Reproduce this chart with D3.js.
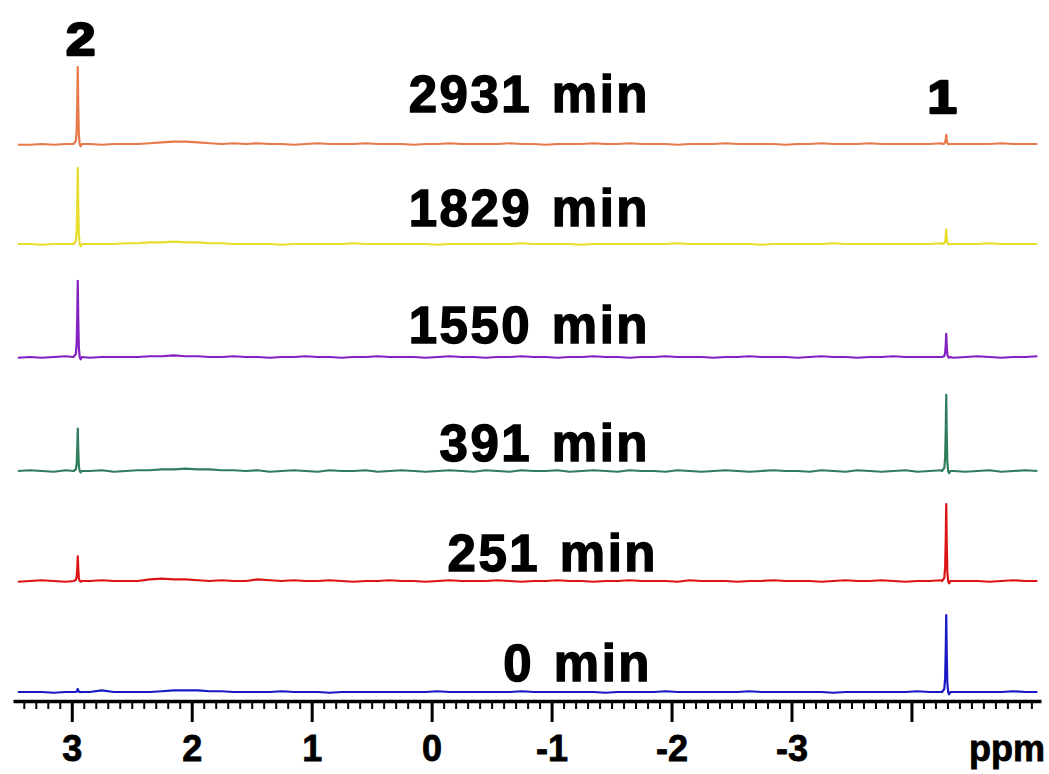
<!DOCTYPE html>
<html>
<head>
<meta charset="utf-8">
<script src="https://cdn.jsdelivr.net/npm/d3@7"></script>
<style>
  html, body { margin: 0; padding: 0; background: #fff; }
  svg { display: block; }
</style>
</head>
<body>
<svg id="chart" width="1049" height="774"></svg>
<script>
// Reaction time of each spectrum, top to bottom
const times = ["2931 min", "1829 min", "1550 min", "391 min", "251 min", "0 min"];

// Peak assignments and chemical shifts (ppm)
const peakLabels = ["2", "1"];
const peakShifts = [2.95, -4.29];

// Peak intensities per spectrum (same order as times)
const peak2Heights = [100, 99, 99, 55, 32, 4];
const peak1Heights = [12, 19, 30, 99, 100, 100];

// Axis ticks (ppm)
const majorTicks = [3, 2, 1, 0, -1, -2, -3, -4];
const tickLabels = ["3", "2", "1", "0", "-1", "-2", "-3", ""];

// Baseline samples every 0.1 ppm starting at 3.45 ppm
const baselineStart = 3.45;
const baselineStep = 0.1;
const base2931 = [
  -1,-1,0,-1,0,0,0,-1,0,0,
  0,1,2,3,3,2,1,0,1,0,
  1,0,0,-1,0,1,0,0,0,1,
  0,0,0,-1,0,0,1,0,0,0,
  0,1,0,0,-1,0,0,0,1,0,
  0,1,0,0,0,-1,0,0,0,1,
  0,0,0,0,-1,0,0,1,0,0,
  0,1,0,0,0,0,0,1,0,0,
  0,0,1,0,0,0
];
const base1829 = [
  0,0,-1,0,0,0,0,0,0,1,
  1,2,2,3,2,2,1,1,0,0,
  0,0,-1,0,0,0,0,0,1,0,
  0,0,0,0,0,-1,0,0,0,0,
  0,0,1,0,0,0,0,-1,0,0,
  0,0,0,0,0,1,0,0,0,0,
  0,0,-1,0,0,0,0,0,1,0,
  0,0,0,0,0,0,0,1,0,0,
  0,1,0,0,0,0
];
const base1550 = [
  -1,0,-1,0,1,0,-1,0,0,0,
  0,1,1,2,1,1,0,0,1,0,
  0,-1,0,0,1,0,0,-1,0,0,
  1,0,0,0,-1,0,1,0,0,-1,
  0,0,1,0,0,-1,0,0,1,0,
  0,-1,0,0,1,0,0,0,-1,0,
  0,1,0,0,0,-1,0,1,0,0,
  -1,0,0,1,0,0,0,0,-1,0,
  1,0,-1,0,0,1
];
const base391 = [
  0,1,0,-1,1,0,0,1,-1,0,
  1,1,2,2,3,2,2,1,1,0,
  1,-1,0,1,0,-1,1,0,0,1,
  -1,0,1,0,-1,0,1,0,-1,1,
  0,-1,1,0,0,1,-1,0,1,0,
  -1,1,0,0,-1,1,0,-1,0,1,
  0,-1,0,1,0,0,-1,1,0,-1,
  1,0,-1,0,1,-1,0,1,0,-1,
  0,1,-1,0,1,0
];
const base251 = [
  -1,0,1,0,-1,0,0,1,0,0,
  0,2,3,2,2,1,0,1,0,0,
  2,1,0,1,0,0,1,0,-1,0,
  0,1,0,0,-1,0,1,0,0,0,
  1,0,-1,0,0,1,0,0,-1,0,
  0,1,0,0,0,-1,1,0,0,0,
  -1,0,0,1,0,0,0,-1,0,1,
  0,0,1,0,-1,0,0,1,0,0,
  0,-1,0,1,0,0
];
const base0 = [
  0,0,0,-1,0,0,0,2,0,0,
  0,0,1,2,2,2,1,1,0,0,
  0,0,1,0,0,0,-1,0,0,0,
  0,0,0,0,0,1,0,0,0,0,
  0,0,1,0,0,0,0,0,0,-1,
  0,0,0,0,1,0,0,0,0,0,
  0,1,0,0,0,0,0,0,-1,0,
  0,0,0,0,0,1,0,0,0,0,
  0,0,0,1,0,0
];
const baselines = [base2931, base1829, base1550, base391, base251, base0];

// Lineshape of a single resonance: [offset from centre (ppm), fraction of height]
const peakShape = [
  [0.035, 0], [0.016, 0.04], [0.009, 0.18], [0.004, 0.55], [0, 1],
  [-0.004, 0.5], [-0.009, 0.12], [-0.016, 0], [-0.024, -0.03], [-0.035, 0]
];

// ---- drawing ----
const colors = ["#e8794a", "#e6dd2c", "#8420c2", "#2f7d5c", "#dc1414", "#1818c4"];
const rowBase = [144, 244, 357, 471, 581, 692];
const labelRight = [650, 650, 650, 650, 658, 652];
const labelBaseline = [112, 226, 343, 461, 571, 681];

const svg = d3.select("#chart");
const font = "'Liberation Sans', Arial, sans-serif";

const x = d3.scaleLinear().domain([3.49, -5.08]).range([13, 1041]);
// intensity units -> pixels (relative to each spectrum's baseline)
const yUnit = d3.scaleLinear().domain([0, 100]).range([0, -77]);

function spectrumPoints(i) {
  const heights = [peak2Heights[i], peak1Heights[i]];
  const pts = [];
  baselines[i].forEach((v, k) => {
    const ppm = baselineStart - k * baselineStep;
    if (peakShifts.every(c => Math.abs(ppm - c) > 0.04)) pts.push([ppm, v]);
  });
  peakShifts.forEach((c, p) => {
    peakShape.forEach(([dp, f]) => pts.push([c + dp, f * heights[p]]));
  });
  pts.sort((a, b) => b[0] - a[0]);
  return pts;
}

const line = d3.line()
  .x(d => x(d[0]))
  .y(d => yUnit(d[1]));

times.forEach((t, i) => {
  const g = svg.append("g").attr("transform", `translate(0,${rowBase[i]})`);
  g.append("path")
    .datum(spectrumPoints(i))
    .attr("fill", "none")
    .attr("stroke", colors[i])
    .attr("stroke-width", 2.2)
    .attr("stroke-linejoin", "round")
    .attr("d", line);

  svg.append("text")
    .attr("x", labelRight[i])
    .attr("y", labelBaseline[i])
    .attr("text-anchor", "end")
    .attr("font-family", font)
    .attr("font-weight", "bold")
    .attr("font-size", 51)
    .attr("letter-spacing", 2.5)
    .attr("word-spacing", 3)
    .attr("stroke", "#000")
    .attr("stroke-width", 1.4)
    .attr("fill", "#000")
    .text(t);
});

// peak assignment labels
const peakLabelY = [55, 113];
const peakLabelDx = [3, -4];
peakLabels.forEach((lab, p) => {
  const cx = x(peakShifts[p]) + peakLabelDx[p];
  svg.append("text")
    .attr("transform", `translate(${cx},${peakLabelY[p]}) scale(1.15,1)`)
    .attr("text-anchor", "middle")
    .attr("font-family", font)
    .attr("font-weight", "bold")
    .attr("font-size", 46)
    .attr("stroke", "#000")
    .attr("stroke-width", 2.4)
    .attr("stroke-linejoin", "round")
    .attr("fill", "#000")
    .text(lab);
});

// ppm axis
const axisY = 701;
const minorTicks = d3.range(34, -51, -1).map(d => d / 10).filter(d => !majorTicks.includes(d));

const minorAxis = d3.axisBottom(x).tickValues(minorTicks).tickSize(8).tickSizeOuter(0).tickFormat("");
const gMinor = svg.append("g").attr("transform", `translate(0,${axisY})`).call(minorAxis);
gMinor.select(".domain").remove();
gMinor.selectAll(".tick line").attr("stroke", "#000").attr("stroke-width", 2);

const majorAxis = d3.axisBottom(x)
  .tickValues(majorTicks)
  .tickSize(21)
  .tickSizeOuter(0)
  .tickPadding(13)
  .tickFormat((d, k) => tickLabels[k]);
const gMajor = svg.append("g").attr("transform", `translate(0,${axisY})`).call(majorAxis);
gMajor.select(".domain").attr("stroke", "#000").attr("stroke-width", 3.5);
gMajor.selectAll(".tick line").attr("stroke", "#000").attr("stroke-width", 3);
gMajor.selectAll(".tick text")
  .attr("font-family", font)
  .attr("font-weight", "bold")
  .attr("font-size", 36)
  .attr("fill", "#000")
  .attr("stroke", "#000")
  .attr("stroke-width", 0.8);

svg.append("text")
  .attr("x", 1007)
  .attr("y", axisY + 60)
  .attr("text-anchor", "middle")
  .attr("font-family", font)
  .attr("font-weight", "bold")
  .attr("font-size", 36)
  .attr("fill", "#000")
  .attr("stroke", "#000")
  .attr("stroke-width", 0.8)
  .text("ppm");
</script>
</body>
</html>
